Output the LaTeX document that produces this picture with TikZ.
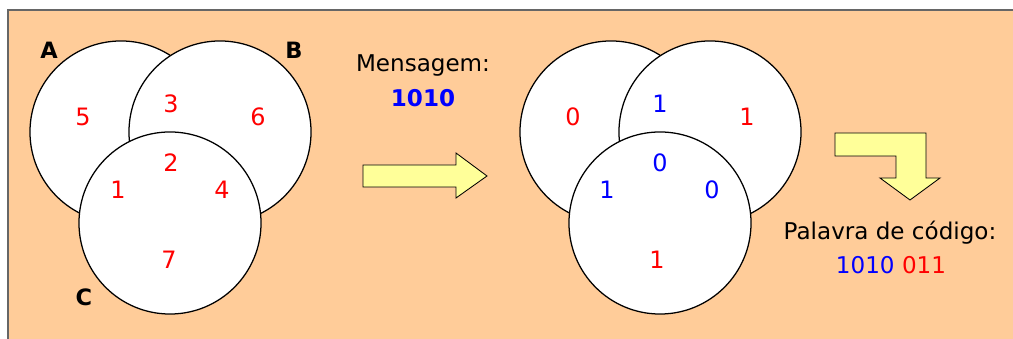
\documentclass[tikz,border=0pt]{standalone}
\usepackage{fontspec}
\setmainfont{DejaVu Sans}
\definecolor{peach}{HTML}{FFCC99}
\definecolor{paleyellow}{HTML}{FFFF99}
\definecolor{bitred}{HTML}{FF0000}
\definecolor{bitblue}{HTML}{0000FF}
\definecolor{frame}{HTML}{666666}

\begin{document}
\begin{tikzpicture}[x=0.025cm, y=-0.025cm,
  set/.style={circle, draw=black, line width=0.9pt, fill=white,
              minimum size=4.55cm, inner sep=0pt},
  setname/.style={font=\fontsize{16}{19}\selectfont\bfseries},
  bit/.style={font=\fontsize{17}{20}\selectfont, inner sep=1pt},
  caption/.style={font=\fontsize{16.4}{19}\selectfont, align=center},
  blockarrow/.style={draw=black, line width=0.6pt, fill=paleyellow}]
\useasboundingbox (0,0) rectangle (1013,339);
% Panel
\fill[peach] (8,10) rectangle (1013,339);
\draw[frame, line width=1pt] (8,339) -- (8,10) -- (1013,10);

% Sets A, B, C with bit positions
\node[set] (A) at (121,132) {};
\node[set] (B) at (220,132) {};
\node[set] (C) at (170,223) {};
\node[setname] (nameA) at (49,50) {A};
\node[setname] (nameB) at (294,50) {B};
\node[setname] (nameC) at (84,297) {C};
\node[bit, bitred] (p5) at (83,117) {5};
\node[bit, bitred] (p3) at (171,104) {3};
\node[bit, bitred] (p6) at (258,117) {6};
\node[bit, bitred] (p2) at (171,163) {2};
\node[bit, bitred] (p1) at (118,190) {1};
\node[bit, bitred] (p4) at (222,190) {4};
\node[bit, bitred] (p7) at (169,260) {7};

% Message
\node[caption] (msg) at (423,65) {Mensagem:};
\node[caption, bitblue, font=\fontsize{16.4}{19}\selectfont\bfseries] (msgbits) at (423,98) {1010};
\filldraw[blockarrow] (363,165) -- (456,165) -- (456,153) -- (487,176)
  -- (456,198) -- (456,187) -- (363,187) -- cycle;

% Same sets, filled with the bits
\node[set] (A2) at (611,132) {};
\node[set] (B2) at (710,132) {};
\node[set] (C2) at (660,223) {};
\node[bit, bitred] (q5) at (573,117) {0};
\node[bit, bitblue] (q3) at (660,104) {1};
\node[bit, bitred] (q6) at (747,117) {1};
\node[bit, bitblue] (q2) at (660,163) {0};
\node[bit, bitblue] (q1) at (607,190) {1};
\node[bit, bitblue] (q4) at (712,190) {0};
\node[bit, bitred] (q7) at (657,260) {1};

% Code word
\filldraw[blockarrow] (835,133) -- (926,133) -- (926,178) -- (940,178)
  -- (910,200) -- (880,178) -- (896,178) -- (896,156) -- (835,156) -- cycle;
\node[caption] (word) at (890,233) {Palavra de código:};
\node[caption] (wordbits) at (891,265) {\textcolor{bitblue}{1010} \textcolor{bitred}{011}};
\end{tikzpicture}
\end{document}
